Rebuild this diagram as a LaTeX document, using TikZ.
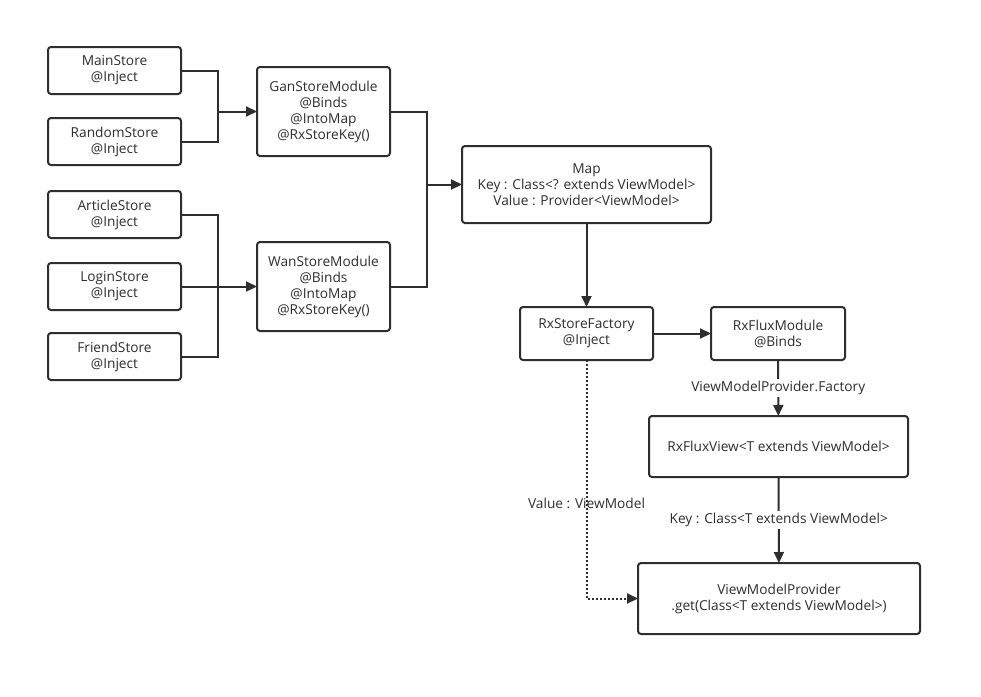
\documentclass[tikz,border=0pt]{standalone}
\usepackage{fontspec}
\setmainfont{Open Sans}
\usepackage{tikz}
\usetikzlibrary{arrows.meta, positioning, calc}
\definecolor{inkgray}{HTML}{2E2E2E}

\begin{document}
\begin{tikzpicture}[
    x=1pt, y=-1pt,
    node distance=25pt,
    box/.style={draw=inkgray, line width=2pt, rounded corners=3pt,
                fill=white, align=center, inner sep=0pt, outer sep=0pt,
                font=\fontsize{13.7}{16}\selectfont, text=inkgray},
    store/.style={box, minimum width=133pt, minimum height=47pt},
    modbox/.style={box, minimum width=133pt, minimum height=89pt},
    lbl/.style={font=\fontsize{13.7}{16}\selectfont, text=inkgray,
                fill=white, inner sep=2pt},
    line/.style={line width=2pt, draw=inkgray},
    arr/.style={line, -{Triangle[length=11pt, width=10pt]}},
    dotarr/.style={arr, dash pattern=on 2pt off 2pt},
  ]
    \useasboundingbox (0,0) rectangle (981,696);

    % Stores, left column
    \node[store] at (114.5,70.5) (main) {MainStore\\@Inject};
    \node[store, below=24pt of main] (random) {RandomStore\\@Inject};
    \node[store, below=26pt of random] (article) {ArticleStore\\@Inject};
    \node[store, below=25pt of article] (login) {LoginStore\\@Inject};
    \node[store, below=23pt of login] (friend) {FriendStore\\@Inject};

    % Modules
    \node[modbox] at (323.5,111.5) (gan)
      {GanStoreModule\\@Binds\\@IntoMap\\@RxStoreKey()};
    \node[modbox] at (323.5,286.5) (wan)
      {WanStoreModule\\@Binds\\@IntoMap\\@RxStoreKey()};

    % Map and factory chain
    \node[box, minimum width=249pt, minimum height=77pt] at (586.5,184.5) (map)
      {Map\\Key : Class<? extends ViewModel>\\Value : Provider<ViewModel>};
    \node[box, minimum width=133pt, minimum height=53pt] at (586.5,333.5) (factory)
      {RxStoreFactory\\@Inject};
    \node[box, minimum width=134pt, minimum height=53pt] at (778,333.5) (fluxmod)
      {RxFluxModule\\@Binds};
    \node[box, minimum width=259pt, minimum height=61pt] at (778.5,446.5) (fluxview)
      {RxFluxView<T extends ViewModel>};
    \node[box, minimum width=282pt, minimum height=71pt] at (779,598.5) (vmp)
      {ViewModelProvider\\.get(Class<T extends ViewModel>)};

    % junctions
    \coordinate (jg) at (218,111.5);
    \coordinate (jw) at (218,286.5);
    \coordinate (jm) at (427,184.5);

    \draw[arr]  (main.east) -| (jg) -- (gan.west);
    \draw[line] (random.east) -| (jg);
    \draw[line] (article.east) -| (jw);
    \draw[line] (friend.east) -| (jw);
    \draw[arr]  (login.east) -- (wan.west);

    \draw[line] (gan.east) -| (jm);
    \draw[line] (wan.east) -| (jm);
    \draw[arr]  (jm) -- (map.west);

    \draw[arr] (map) -- (factory);
    \draw[arr] (factory) -- (fluxmod);
    \draw[arr] (fluxmod) -- node[lbl] {ViewModelProvider.Factory} (fluxview);
    \draw[arr] (fluxview) -- node[lbl] {Key : Class<T extends ViewModel>} (vmp);
    \draw[dotarr] (factory.south) |- node[pos=0.3, lbl, fill=none] {Value : ViewModel} (vmp.west);
  \end{tikzpicture}
\end{document}
